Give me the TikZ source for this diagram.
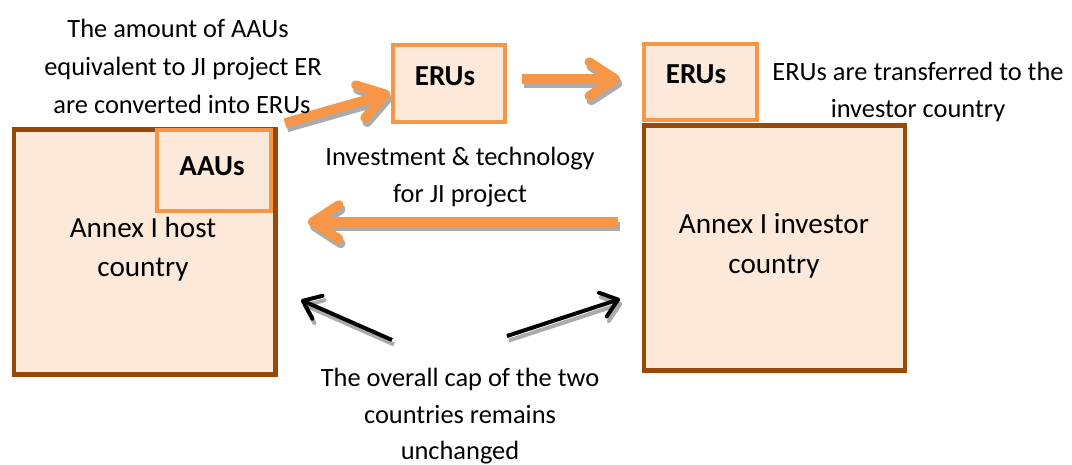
\documentclass[tikz,border=0pt]{standalone}
\usepackage{fontspec}
\setmainfont{Carlito}
\usetikzlibrary{arrows.meta}
\definecolor{boxfill}{HTML}{FDE9D9}
\definecolor{hostline}{HTML}{984807}
\definecolor{erucol}{HTML}{F79646}
\tikzset{
  every node/.style={inner sep=0pt, outer sep=0pt},
  txt/.style={anchor=base, font=\fontsize{26.4}{32}\selectfont},
  boxtxt/.style={anchor=base, font=\fontsize{29.2}{35}\selectfont},
  bold/.style={anchor=base, font=\fontsize{29}{35}\selectfont\bfseries},
  country/.style={draw=hostline, line width=4.5pt, fill=boxfill},
  unitbox/.style={draw=erucol, line width=4pt, fill=boxfill},
  flowtip/.style={line width=9.5pt, -{Straight Barb[length=26pt,width=34pt,round]}},
  captip/.style={line width=4pt, -{Straight Barb[length=16pt,width=25pt,round]}},
  flow/.style={flowtip, draw=erucol},
  capline/.style={captip, draw=black},
  shade/.style={draw=black!33}
}
\begin{document}
\begin{tikzpicture}[x=1pt,y=-1pt]
\useasboundingbox (0,0) rectangle (1072,464);

% host country with its assigned amount units
\path[country] (14,129.5) rectangle (275.5,374.5);
\node[minimum width=262pt, minimum height=245pt] (host) at (144.75,252) {};
\path[unitbox] (157,129.5) rectangle (270.5,210.5);
\node[minimum width=113pt, minimum height=81pt] (aau) at (213.75,170) {};
\node[bold] (aautxt) at (212,175) {AAUs};
\node[boxtxt] (host1) at (143,237) {Annex I host};
\node[boxtxt] (host2) at (143,276) {country};

% investor country
\path[country] (644,125.5) rectangle (905,370.5);
\node[minimum width=261pt, minimum height=245pt] (inv) at (774.5,248) {};
\node[boxtxt] (inv1) at (774,233) {Annex I investor};
\node[boxtxt] (inv2) at (774,273) {country};

% ERU boxes
\path[unitbox] (392.5,45) rectangle (505,122);
\node[minimum width=112pt, minimum height=77pt] (eru1) at (448.75,83.5) {};
\node[bold] (eru1txt) at (445,85) {ERUs};
\path[unitbox] (644,43.5) rectangle (757,120);
\node[minimum width=113pt, minimum height=76pt] (eru2) at (700.5,81.75) {};
\node[bold] (eru2txt) at (696,83) {ERUs};

% connector end points
\coordinate (a1s) at (285,123);
\coordinate (a1e) at (390,93);
\coordinate (a2s) at (522,79);
\coordinate (a2e) at (620,79);
\coordinate (a3s) at (618,222);
\coordinate (a3e) at (308,222);
\coordinate (c1s) at (392,340);
\coordinate (c1e) at (301,300);
\coordinate (c2s) at (507,336);
\coordinate (c2e) at (620,299);

% drop shadows of the arrows
\begin{scope}[transform canvas={shift={(2pt,-4.5pt)}}]
  \draw[flowtip, shade] (a1s) -- (a1e);
  \draw[flowtip, shade] (a2s) -- (a2e);
  \draw[flowtip, shade] (a3s) -- (a3e);
  \draw[captip, shade] (c1s) -- (c1e);
  \draw[captip, shade] (c2s) -- (c2e);
\end{scope}

\draw[flow] (a1s) -- (a1e);
\draw[flow] (a2s) -- (a2e);
\draw[flow] (a3s) -- (a3e);
\draw[capline] (c1s) -- (c1e);
\draw[capline] (c2s) -- (c2e);

% descriptions
\node[txt] (t1a) at (178,37) {The amount of AAUs};
\node[txt] (t1b) at (183,75) {equivalent to JI project ER};
\node[txt] (t1c) at (182,113) {are converted into ERUs};
\node[txt] (t2a) at (460,165) {Investment \& technology};
\node[txt] (t2b) at (460,202) {for JI project};
\node[txt] (t3a) at (918,80) {ERUs are transferred to the};
\node[txt] (t3b) at (918,117) {investor country};
\node[txt] (t4a) at (460,386) {The overall cap of the two};
\node[txt] (t4b) at (460,423) {countries remains};
\node[txt] (t4c) at (460,459) {unchanged};
\end{tikzpicture}
\end{document}
